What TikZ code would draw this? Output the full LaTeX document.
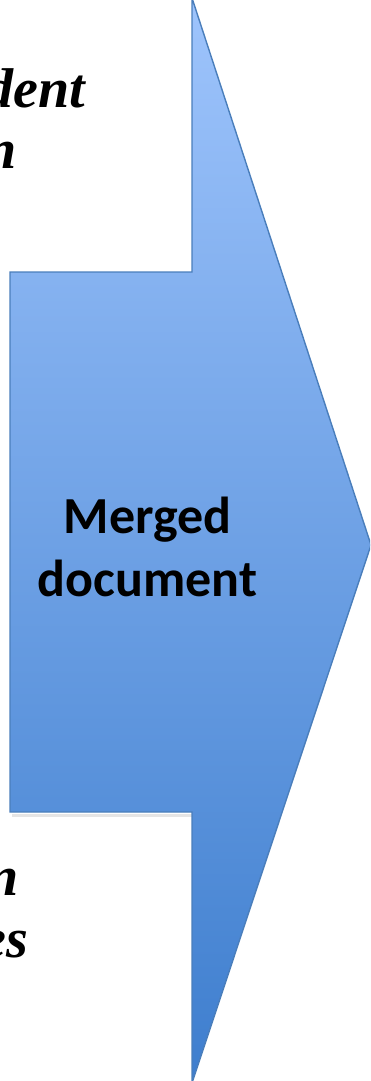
\documentclass[tikz,border=0pt]{standalone}
\usepackage{fontspec}
\setmainfont{Liberation Serif}[BoldItalicFont={Liberation Serif Bold Italic},BoldFont={Liberation Serif Bold},ItalicFont={Liberation Serif Italic}]
\newfontfamily\sideserif{Liberation Serif Bold Italic}
\newfontfamily\carlito{Carlito}[BoldFont={Carlito Bold}]
\begin{document}
\begin{tikzpicture}[x=1pt,y=-1pt,
  arrowfill/.style={top color=arrowtop,bottom color=arrowbot,draw=arrowline,line width=1.4pt,line join=miter},
  sidetext/.style={anchor=base east,inner sep=0pt,font=\sideserif\fontsize{56}{61}\selectfont},
  maintext/.style={align=center,inner sep=0pt,font=\carlito\bfseries\fontsize{52}{63}\selectfont}]
\definecolor{arrowtop}{RGB}{158,196,252}
\definecolor{arrowbot}{RGB}{62,126,206}
\definecolor{arrowline}{RGB}{74,126,187}
\useasboundingbox (0,0) rectangle (370,1081);
\clip (0,0) rectangle (370,1081);
\fill[black,opacity=0.1] (12,814) -- (194,814) -- (194,817) -- (12,817) -- cycle;
\path[arrowfill] (192,-2) -- (192,272) -- (10,272) -- (10,812) -- (192,812) -- (192,1083) -- (371,545) -- cycle;
\node[sidetext] (t1) at (85,107) {dent};
\node[sidetext] (t2) at (17,168) {n};
\node[sidetext] (b1) at (19,895) {n};
\node[sidetext] (b2) at (28,957) {es};
\node[maintext] (m) at (147.5,547) {Merged\\document};
\end{tikzpicture}
\end{document}
